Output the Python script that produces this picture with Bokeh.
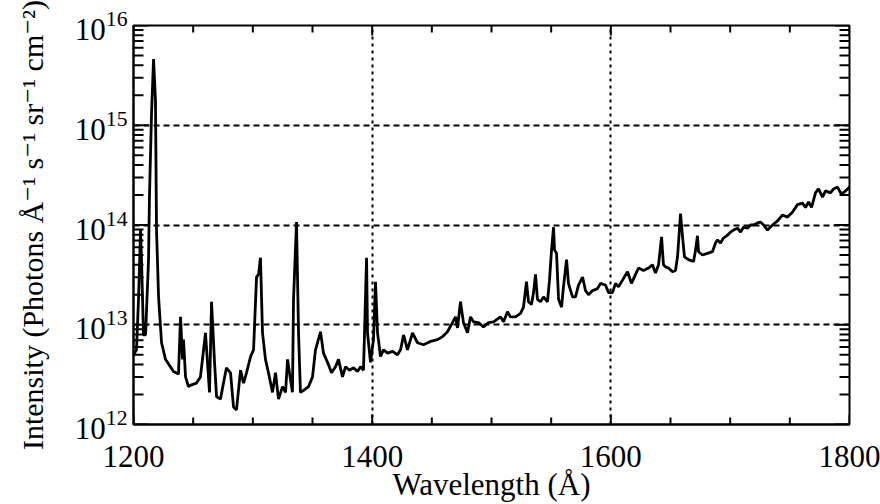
from bokeh.plotting import figure
from bokeh.models import Range1d, FixedTicker, ColumnDataSource
from bokeh.embed import file_html
from bokeh.resources import INLINE

# ---- data ----
wavelength_A = [
    1200.0, 1202.5, 1204.2, 1205.9, 1206.7, 1208.4, 1210.1, 1212.6, 1213.4, 1215.1,
    1216.8, 1218.4, 1219.3, 1221.0, 1223.5, 1226.8, 1233.5, 1237.7, 1239.4, 1241.1,
    1241.9, 1243.6, 1246.1, 1248.6, 1252.8, 1256.1, 1258.7, 1260.3, 1262.0, 1263.7,
    1265.4, 1267.9, 1269.6, 1272.9, 1275.4, 1277.9, 1281.3, 1283.8, 1286.3, 1289.7,
    1292.2, 1294.7, 1298.1, 1300.6, 1303.1, 1304.8, 1306.4, 1308.1, 1310.6, 1313.1,
    1316.5, 1319.0, 1321.5, 1324.9, 1327.4, 1329.1, 1330.7, 1333.2, 1334.1, 1336.6,
    1338.3, 1339.9, 1342.5, 1346.7, 1350.0, 1352.5, 1354.2, 1356.7, 1359.2, 1362.6,
    1365.9, 1369.3, 1371.8, 1375.1, 1377.7, 1381.0, 1384.4, 1387.7, 1390.2, 1392.7,
    1393.6, 1395.3, 1396.1, 1398.6, 1401.1, 1402.8, 1404.5, 1407.0, 1409.5, 1412.9,
    1417.1, 1421.2, 1423.8, 1426.3, 1429.6, 1433.8, 1438.0, 1443.0, 1448.9, 1454.8,
    1458.9, 1463.1, 1467.3, 1469.8, 1471.5, 1474.0, 1476.5, 1479.9, 1482.4, 1484.9,
    1489.1, 1493.3, 1497.5, 1501.7, 1507.5, 1510.1, 1513.4, 1515.9, 1520.1, 1524.3,
    1526.8, 1529.3, 1531.0, 1533.5, 1535.2, 1536.9, 1538.5, 1541.1, 1543.6, 1546.9,
    1548.6, 1550.3, 1552.0, 1552.8, 1554.5, 1556.2, 1558.7, 1560.3, 1562.9, 1564.5,
    1567.9, 1570.4, 1572.9, 1576.3, 1578.8, 1581.3, 1584.7, 1588.8, 1591.4, 1595.5,
    1598.1, 1601.4, 1603.9, 1606.4, 1609.8, 1614.0, 1617.3, 1620.7, 1623.2, 1627.4,
    1631.6, 1634.9, 1637.4, 1640.0, 1642.5, 1644.1, 1645.8, 1648.3, 1651.7, 1654.2,
    1655.9, 1657.6, 1658.4, 1660.1, 1661.7, 1665.1, 1669.3, 1671.0, 1672.6, 1673.5,
    1676.8, 1681.0, 1685.2, 1687.7, 1689.4, 1691.9, 1694.4, 1697.8, 1700.3, 1702.8,
    1706.2, 1708.7, 1711.2, 1714.5, 1717.1, 1719.6, 1722.9, 1725.4, 1728.0, 1731.3,
    1735.5, 1739.7, 1743.9, 1748.1, 1752.3, 1756.4, 1760.6, 1763.1, 1765.7, 1768.2,
    1771.5, 1774.0, 1777.4, 1779.9, 1784.1, 1786.6, 1790.0, 1792.5, 1795.0, 1798.4,
    1800.0,
]
intensity = [
    5.0e12, 5.6e12, 1.8e13, 8.9e13, 4.5e13, 7.9e12, 7.9e12, 4.5e13, 2.0e14, 1.3e15,
    4.6e15, 1.8e15, 8.9e13, 1.9e13, 6.6e12, 4.5e12, 3.4e12, 3.2e12, 1.2e13, 4.5e12,
    7.1e12, 3.0e12, 2.4e12, 2.5e12, 2.6e12, 3.0e12, 5.6e12, 8.3e12, 4.2e12, 2.1e12,
    1.7e13, 4.2e12, 1.9e12, 1.8e12, 2.6e12, 3.7e12, 3.3e12, 1.5e12, 1.4e12, 3.5e12,
    2.6e12, 3.3e12, 4.8e12, 5.6e12, 3.0e13, 3.2e13, 4.7e13, 8.3e12, 4.5e12, 3.3e12,
    2.1e12, 3.3e12, 1.8e12, 2.4e12, 2.1e12, 4.5e12, 3.3e12, 2.1e12, 1.8e13, 1.07e14,
    8.3e12, 2.1e12, 2.2e12, 2.4e12, 3.0e12, 5.6e12, 6.6e12, 8.5e12, 5.2e12, 4.2e12,
    3.3e12, 3.8e12, 4.5e12, 3.0e12, 3.8e12, 3.5e12, 3.7e12, 3.4e12, 3.8e12, 3.5e12,
    8.3e12, 4.7e13, 8.3e12, 4.2e12, 7.1e12, 2.7e13, 8.3e12, 4.8e12, 5.6e12, 5.2e12,
    5.4e12, 5.0e12, 5.6e12, 7.9e12, 5.6e12, 8.3e12, 6.6e12, 6.3e12, 6.8e12, 7.1e12,
    7.6e12, 8.5e12, 1.05e13, 1.2e13, 9.3e12, 1.7e13, 1.05e13, 8.3e12, 1.2e13, 1.07e13,
    1.05e13, 9.5e12, 1.05e13, 1.07e13, 1.2e13, 1.07e13, 1.35e13, 1.2e13, 1.2e13, 1.3e13,
    1.5e13, 2.7e13, 1.7e13, 1.6e13, 2.1e13, 3.2e13, 1.8e13, 1.7e13, 1.9e13, 1.7e13,
    2.8e13, 5.6e13, 9.5e13, 5.6e13, 5.2e13, 1.8e13, 1.5e13, 2.4e13, 4.5e13, 2.6e13,
    1.9e13, 1.9e13, 2.5e13, 3.0e13, 2.2e13, 2.0e13, 2.2e13, 2.3e13, 2.6e13, 2.5e13,
    2.1e13, 2.1e13, 2.6e13, 2.4e13, 2.8e13, 3.4e13, 2.6e13, 3.2e13, 3.7e13, 3.5e13,
    3.7e13, 4.0e13, 3.3e13, 4.0e13, 7.6e13, 4.0e13, 3.8e13, 3.7e13, 3.4e13, 3.5e13,
    4.8e13, 9.5e13, 1.3e14, 7.6e13, 4.8e13, 4.5e13, 4.3e13, 5.6e13, 7.8e13, 5.4e13,
    5.0e13, 5.2e13, 5.4e13, 6.6e13, 7.1e13, 6.6e13, 7.4e13, 7.9e13, 8.5e13, 8.9e13,
    9.3e13, 8.5e13, 9.5e13, 9.3e13, 1.0e14, 1.0e14, 1.05e14, 1.07e14, 1.0e14, 8.9e13,
    1.0e14, 1.1e14, 1.26e14, 1.2e14, 1.35e14, 1.6e14, 1.66e14, 1.5e14, 1.7e14, 1.5e14,
    2.1e14, 2.3e14, 1.9e14, 2.2e14, 2.1e14, 2.3e14, 2.4e14, 2.1e14, 2.1e14, 2.3e14,
    2.4e14,
]
x_major_ticks = [1200, 1400, 1600, 1800]
x_minor_ticks = [1250, 1300, 1350, 1450, 1500, 1550, 1650, 1700, 1750]
x_grid_lines = [1400, 1600]
y_major_ticks = [1e12, 1e13, 1e14, 1e15, 1e16]
y_grid_lines = [1e13, 1e14, 1e15]
y_minor_ticks = [m * d for d in [1e12, 1e13, 1e14, 1e15] for m in range(2, 10)]

X_MIN, X_MAX = 1200, 1800
Y_MIN, Y_MAX = 1e12, 1e16
W, H = 880, 504
B_LEFT, B_RIGHT, B_TOP, B_BOTTOM = 133, 31, 25, 78
PX_PER_X = (W - B_LEFT - B_RIGHT) / (X_MAX - X_MIN)   # px per Angstrom
PX_PER_DEC = (H - B_TOP - B_BOTTOM) / 4.0              # px per decade
FONT = "Liberation Serif, DejaVu Serif"

p = figure(width=W, height=H, output_backend="svg", toolbar_location=None,
           y_axis_type="log", x_range=Range1d(X_MIN, X_MAX), y_range=Range1d(Y_MIN, Y_MAX),
           min_border_left=B_LEFT, min_border_right=B_RIGHT, min_border_top=B_TOP,
           min_border_bottom=B_BOTTOM)
p.outline_line_color = "black"
p.outline_line_width = 2
p.xgrid.ticker = FixedTicker(ticks=x_grid_lines)
p.xgrid.grid_line_color = "black"
p.xgrid.grid_line_width = 2
p.xgrid.grid_line_dash = "3 4"
p.ygrid.ticker = FixedTicker(ticks=y_grid_lines)
p.ygrid.grid_line_color = "black"
p.ygrid.grid_line_width = 1.8
p.ygrid.grid_line_dash = "6 4"

src = ColumnDataSource(dict(wl=wavelength_A, inten=intensity))
p.line("wl", "inten", source=src, line_color="black", line_width=2.8)

# inward tick marks on all four sides (short segments inside the frame)
dx_minor = 10 / PX_PER_X
dx_major = 15 / PX_PER_X
f_minor = 10 ** (7 / PX_PER_DEC)
f_major = 10 ** (10 / PX_PER_DEC)
nym, nyM = len(y_minor_ticks), len(y_major_ticks)
nxm, nxM = len(x_minor_ticks), len(x_major_ticks)

p.segment(x0=[X_MIN] * nym, x1=[X_MIN + dx_minor] * nym, y0=y_minor_ticks, y1=y_minor_ticks,
          line_color="black", line_width=2)
p.segment(x0=[X_MAX] * nym, x1=[X_MAX - dx_minor] * nym, y0=y_minor_ticks, y1=y_minor_ticks,
          line_color="black", line_width=2)
p.segment(x0=[X_MIN] * nyM, x1=[X_MIN + dx_major] * nyM, y0=y_major_ticks, y1=y_major_ticks,
          line_color="black", line_width=2)
p.segment(x0=[X_MAX] * nyM, x1=[X_MAX - dx_major] * nyM, y0=y_major_ticks, y1=y_major_ticks,
          line_color="black", line_width=2)
p.segment(x0=x_minor_ticks, x1=x_minor_ticks, y0=[Y_MIN] * nxm, y1=[Y_MIN * f_minor] * nxm,
          line_color="black", line_width=2)
p.segment(x0=x_minor_ticks, x1=x_minor_ticks, y0=[Y_MAX] * nxm, y1=[Y_MAX / f_minor] * nxm,
          line_color="black", line_width=2)
p.segment(x0=x_major_ticks, x1=x_major_ticks, y0=[Y_MIN] * nxM, y1=[Y_MIN * f_major] * nxM,
          line_color="black", line_width=2)
p.segment(x0=x_major_ticks, x1=x_major_ticks, y0=[Y_MAX] * nxM, y1=[Y_MAX / f_major] * nxM,
          line_color="black", line_width=2)

xa = p.xaxis[0]
xa.ticker = FixedTicker(ticks=x_major_ticks)
xa.axis_label = "Wavelength (Å)"
ya = p.yaxis[0]
ya.ticker = FixedTicker(ticks=y_major_ticks)
ya.axis_label = "Intensity (Photons Å⁻¹ s⁻¹ sr⁻¹ cm⁻²)"

for ax in [xa, ya]:
    ax.major_tick_in = 0
    ax.minor_tick_in = 0
    ax.major_tick_out = 0
    ax.minor_tick_out = 0
    ax.axis_line_width = 2
    ax.axis_line_color = "black"
    ax.major_label_text_font = FONT
    ax.major_label_text_font_size = "31px"
    ax.major_label_text_color = "black"
    ax.axis_label_text_font = FONT
    ax.axis_label_text_font_size = "31px"
    ax.axis_label_text_font_style = "normal"
    ax.axis_label_text_color = "black"

ya.axis_label_text_font_size = "30px"
xa.major_label_standoff = 21
xa.axis_label_standoff = -3
ya.major_label_standoff = 6
ya.axis_label_standoff = 23

open("out.html", "w").write(file_html(p, INLINE, title="Spectrum"))
